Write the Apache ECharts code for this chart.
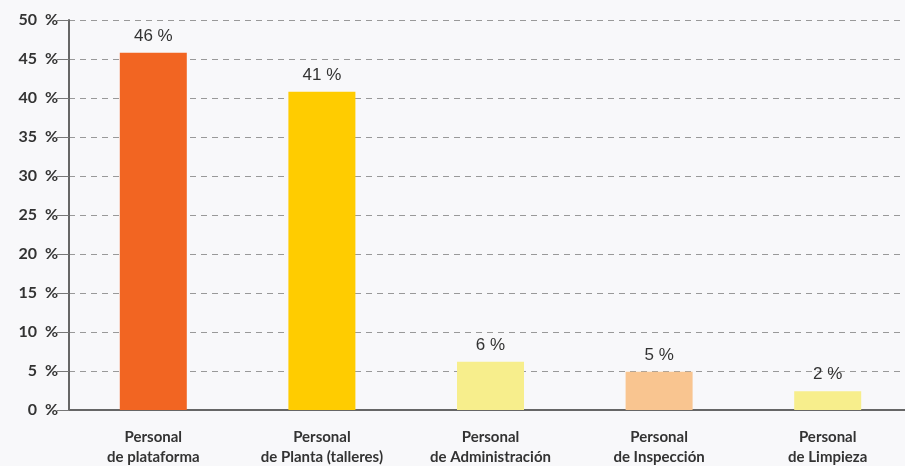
<!DOCTYPE html>
<html>
<head>
<meta charset="utf-8">
<script src="https://cdn.jsdelivr.net/npm/echarts@6/dist/echarts.min.js"></script>
<style>
  html, body { margin: 0; padding: 0; background: #f8f8fa; }
  #J_chart { width: 905px; height: 466px; }
</style>
</head>
<body>
<div id="J_chart"></div>
<script>
// categorias y valores
var categories = [
    'Personal\nde plataforma',
    'Personal\nde Planta (talleres)',
    'Personal\nde Administración',
    'Personal\nde Inspección',
    'Personal\nde Limpieza'
];
var values = [45.8, 40.8, 6.2, 4.9, 2.4];
var valueLabels = ['46 %', '41 %', '6 %', '5 %', '2 %'];
var barColors = ['#f26522', '#ffcc00', '#f7ee8c', '#f9c590', '#f7ee8c'];

var chart = echarts.init(document.getElementById('J_chart'));

var seriesData = [];
for (var i = 0; i < values.length; i++) {
    seriesData.push({
        value: values[i],
        itemStyle: { color: barColors[i] },
        label: { formatter: valueLabels[i] }
    });
}

var option = {
    backgroundColor: '#f8f8fa',
    animation: false,
    grid: {
        left: 69,
        width: 843,
        top: 20,
        bottom: 56,
        outerBoundsMode: 'none'
    },
    xAxis: {
        type: 'category',
        data: categories,
        axisLine: {
            lineStyle: { color: '#666', width: 2 }
        },
        axisTick: {
            length: 10,
            lineStyle: { color: '#777', width: 1 }
        },
        axisLabel: {
            color: '#333',
            fontFamily: 'Lato',
            fontWeight: 'bold',
            fontSize: 15,
            lineHeight: 20,
            margin: 17
        }
    },
    yAxis: {
        type: 'value',
        min: 0,
        max: 50,
        interval: 5,
        axisLine: {
            show: true,
            lineStyle: { color: '#666', width: 2 }
        },
        axisTick: {
            show: true,
            length: 12,
            lineStyle: { color: '#777', width: 1 }
        },
        axisLabel: {
            formatter: '{value}  %',
            color: '#333',
            fontFamily: 'Lato',
            fontWeight: 'bold',
            fontSize: 16,
            margin: 11
        },
        splitLine: {
            lineStyle: { color: '#999', type: [6, 5], width: 1 }
        }
    },
    series: [
        {
            type: 'bar',
            data: seriesData,
            barWidth: 67,
            label: {
                show: true,
                position: 'top',
                distance: 8,
                color: '#333',
                fontFamily: 'Liberation Sans',
                fontSize: 17
            }
        }
    ]
};

chart.setOption(option);
</script>
</body>
</html>
